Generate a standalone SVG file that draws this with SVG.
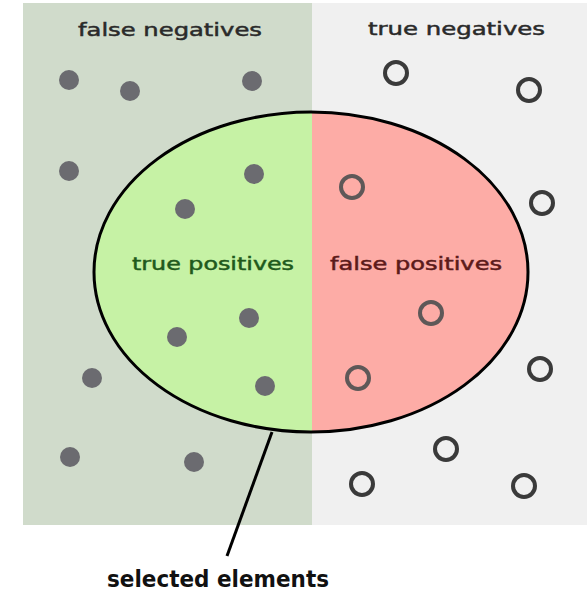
<svg xmlns="http://www.w3.org/2000/svg" width="587" height="591" viewBox="0 0 587 591">
  <style>
    .lbl { font-family: "DejaVu Sans", Verdana, sans-serif; font-size: 18.5px; stroke-width: 0.5px; }
    .neg { fill: #2a2a2a; stroke: #2a2a2a; }
    .tp { fill: #1f5a1c; stroke: #1f5a1c; }
    .fp { fill: #5c1a1a; stroke: #5c1a1a; }
    .sel { font-family: "DejaVu Sans", Verdana, sans-serif; font-size: 23px; font-weight: bold; fill: #111; }
    .dot { fill: #6b6b70; }
    .ring { fill: none; stroke: #3a3a3a; stroke-width: 4; }
    .ring.in { stroke: #5e5858; }
  </style>
  <defs>
    <clipPath id="leftHalf"><rect x="0" y="0" width="312" height="591"/></clipPath>
    <clipPath id="rightHalf"><rect x="312" y="0" width="275" height="591"/></clipPath>
  </defs>

  <rect width="587" height="591" fill="#ffffff"/>

  <!-- background panels: relevant (left) and irrelevant (right) -->
  <rect x="23" y="3" width="289" height="522" fill="#d0dbcb"/>
  <rect x="312" y="3" width="275" height="522" fill="#f0f0f0"/>

  <!-- selection ellipse, split in two colours -->
  <g id="selection">
    <ellipse cx="311" cy="272" rx="217" ry="160" fill="#c6f2a5" clip-path="url(#leftHalf)"/>
    <ellipse cx="311" cy="272" rx="217" ry="160" fill="#fdaca6" clip-path="url(#rightHalf)"/>
    <ellipse cx="311" cy="272" rx="217" ry="160" fill="none" stroke="#000" stroke-width="3"/>
  </g>

  <!-- region labels -->
  <text class="lbl neg" x="78" y="36" textLength="184" lengthAdjust="spacingAndGlyphs">false negatives</text>
  <text class="lbl neg" x="368" y="35" textLength="177" lengthAdjust="spacingAndGlyphs">true negatives</text>
  <text class="lbl tp" x="132" y="270" textLength="162" lengthAdjust="spacingAndGlyphs">true positives</text>
  <text class="lbl fp" x="330" y="270" textLength="172" lengthAdjust="spacingAndGlyphs">false positives</text>

  <!-- relevant elements (filled) -->
  <g id="relevant">
    <circle class="dot" cx="69" cy="80" r="10"/>
    <circle class="dot" cx="130" cy="91" r="10"/>
    <circle class="dot" cx="252" cy="81" r="10"/>
    <circle class="dot" cx="69" cy="171" r="10"/>
    <circle class="dot" cx="254" cy="174" r="10"/>
    <circle class="dot" cx="185" cy="209" r="10"/>
    <circle class="dot" cx="177" cy="337" r="10"/>
    <circle class="dot" cx="249" cy="318" r="10"/>
    <circle class="dot" cx="92" cy="378" r="10"/>
    <circle class="dot" cx="265" cy="386" r="10"/>
    <circle class="dot" cx="70" cy="457" r="10"/>
    <circle class="dot" cx="194" cy="462" r="10"/>
  </g>

  <!-- irrelevant elements (hollow) -->
  <g id="irrelevant">
    <circle class="ring" cx="396" cy="73" r="11"/>
    <circle class="ring" cx="529" cy="90" r="11"/>
    <circle class="ring in" cx="352" cy="187" r="11"/>
    <circle class="ring" cx="542" cy="203" r="11"/>
    <circle class="ring in" cx="431" cy="313" r="11"/>
    <circle class="ring in" cx="358" cy="378" r="11"/>
    <circle class="ring" cx="540" cy="369" r="11"/>
    <circle class="ring" cx="446" cy="449" r="11"/>
    <circle class="ring" cx="362" cy="484" r="11"/>
    <circle class="ring" cx="524" cy="486" r="11"/>
  </g>

  <!-- pointer to the selection -->
  <g id="connectors">
    <line x1="272" y1="432" x2="227" y2="556" stroke="#000" stroke-width="3"/>
  </g>
  <text class="sel" x="107" y="587" textLength="222" lengthAdjust="spacingAndGlyphs">selected elements</text>
</svg>
